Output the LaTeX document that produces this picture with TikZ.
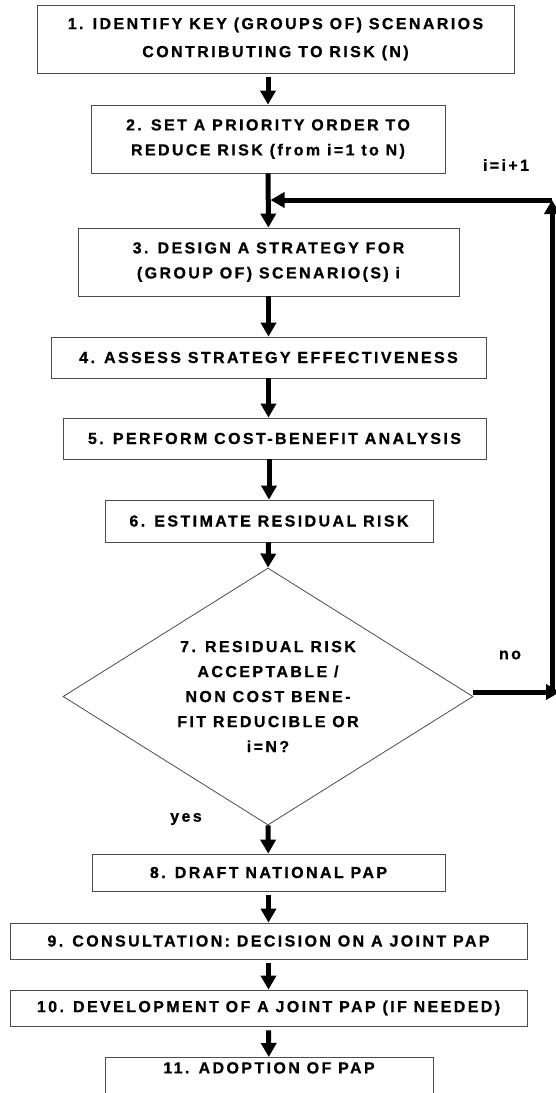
\documentclass[tikz,border=0pt]{standalone}
\usepackage{fontspec}
\newfontfamily\flowfont[LetterSpace=15,BoldFeatures={FakeBold=0.8}]{Liberation Sans}
\usetikzlibrary{arrows.meta,shapes.geometric}
\tikzset{
  txt/.style={font=\flowfont\bfseries\fontsize{16}{25}\selectfont},
  box/.style={txt,draw=black!70,line width=0.8pt,align=center,inner sep=0pt},
  dbox/.style={box,diamond,aspect=1.6},
  lbl/.style={txt,inner sep=0pt},
  arr/.style={-{Triangle[length=14pt,width=15pt]},line width=5pt}}
\begin{document}
\begin{tikzpicture}[x=1pt,y=-1pt]
\useasboundingbox (0,0) rectangle (556,1093);
% steps
\node[box,minimum width=477pt,minimum height=68pt,font=\flowfont\bfseries\fontsize{16}{28}\selectfont] (s1) at (275.5,39)
  {1. IDENTIFY KEY (GROUPS OF) SCENARIOS\\CONTRIBUTING TO RISK (N)};
\node[box,minimum width=354pt,minimum height=68pt] (s2) at (268,139)
  {2. SET A PRIORITY ORDER TO\\REDUCE RISK (from i=1 to N)};
\node[box,minimum width=381pt,minimum height=68pt] (s3) at (268.5,262)
  {3. DESIGN A STRATEGY FOR\\(GROUP OF) SCENARIO(S) i};
\node[box,minimum width=435pt,minimum height=41pt] (s4) at (268.5,357.5)
  {4. ASSESS STRATEGY EFFECTIVENESS};
\node[box,minimum width=423pt,minimum height=41pt] (s5) at (274.5,438.5)
  {5. PERFORM COST-BENEFIT ANALYSIS};
\node[box,minimum width=328pt,minimum height=42pt] (s6) at (269,521)
  {6. ESTIMATE RESIDUAL RISK};
\node[dbox,minimum width=410pt,minimum height=257pt] (s7) at (268,696.5)
  {7. RESIDUAL RISK\\ACCEPTABLE /\\NON COST BENE-\\FIT REDUCIBLE OR\\i=N?};
\node[box,minimum width=353pt,minimum height=37pt] (s8) at (268.5,872.5)
  {8. DRAFT NATIONAL PAP};
\node[box,minimum width=517pt,minimum height=36pt] (s9) at (268.5,941)
  {9. CONSULTATION: DECISION ON A JOINT PAP};
\node[box,minimum width=517pt,minimum height=36pt] (s10) at (268.5,1008)
  {10. DEVELOPMENT OF A JOINT PAP (IF NEEDED)};
\node[box,minimum width=328pt,anchor=north,inner ysep=5pt,text height=11pt,text depth=40pt] (s11) at (269,1057)
  {11. ADOPTION OF PAP};
% labels
\node[lbl] (inc) at (506,165) {i=i+1};
\node[lbl] (no) at (510,655) {no};
\node[lbl] (yes) at (186,819) {yes};
% main flow
\draw[arr,shorten <=4pt] (s1.south -| s2.north) -- (s2.north);
\draw[arr] (s2) -- (s3);
\draw[arr] (s3) -- (s4);
\draw[arr] (s4) -- (s4 |- s5.north);
\draw[arr] (s5.south -| s6.north) -- (s6.north);
\draw[arr] (s6) -- (s7.north);
\draw[arr] (s7.south) -- (s8);
\draw[arr,shorten <=4pt] (s8) -- (s9);
\draw[arr,shorten <=4pt] (s9) -- (s10);
\draw[arr,shorten <=4pt] (s10) -- (s11);
% loop back
\coordinate (noend) at (560,692);
\coordinate (rgt) at (552,694.5);
\coordinate (top) at (552,200);
\coordinate (jn) at (268,200);
\draw[arr] (s7.east |- noend) -- (noend);
\draw[arr] (rgt) -- (top);
\draw[arr,shorten >=2.5pt] (top) -- (jn);
\end{tikzpicture}
\end{document}
